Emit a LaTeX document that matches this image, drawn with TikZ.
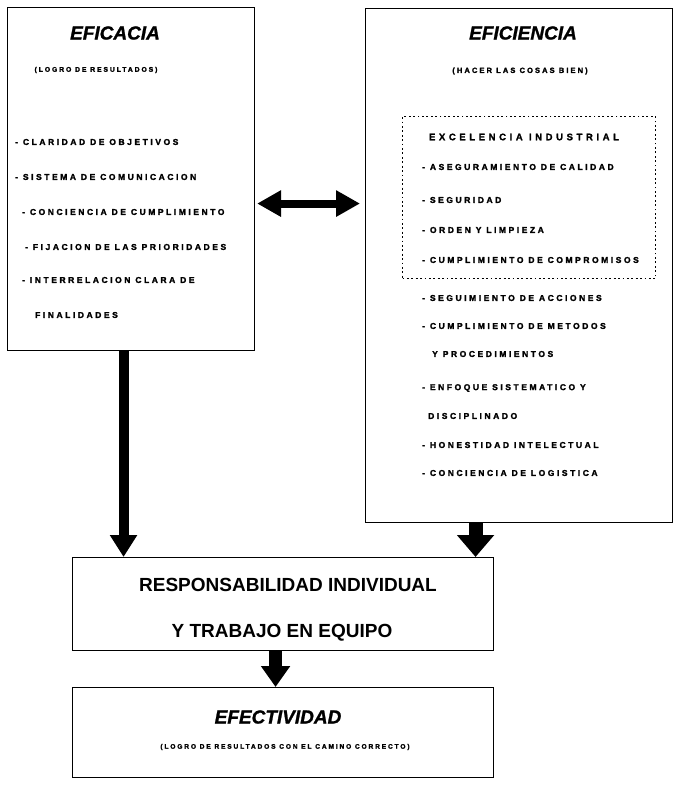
\documentclass[tikz,border=0pt]{standalone}
\usepackage{fontspec}
\setmainfont{Liberation Sans}
\newfontfamily\trackedfont[LetterSpace=30,FakeBold=2]{Liberation Sans}
\newfontfamily\subfont[LetterSpace=28,FakeBold=2]{Liberation Sans}
\newfontfamily\headfont[LetterSpace=38,FakeBold=1.5]{Liberation Sans}
\newfontfamily\titlefont[FakeBold=1.2]{Liberation Sans}
\usetikzlibrary{arrows.meta}

\begin{document}
\begin{tikzpicture}[x=1pt,y=-1pt,
  frame/.style={draw, line width=1.1pt, inner sep=0pt, anchor=north west},
  dotframe/.style={draw, line width=1pt, dash pattern=on 1.8pt off 2.6pt, inner sep=0pt, anchor=north west},
  title/.style={font=\titlefont\fontsize{19}{21}\selectfont\bfseries\itshape, inner sep=0pt},
  subtitle/.style={font=\subfont\fontsize{#1}{9}\selectfont\bfseries, inner sep=0pt},
  subtitle/.default=7.5,
  item/.style={font=\trackedfont\fontsize{8.5}{10}\selectfont\bfseries, anchor=west, inner sep=0pt},
  head/.style={font=\headfont\fontsize{9.5}{11}\selectfont\bfseries, inner sep=0pt},
  big/.style={font=\fontsize{19}{22}\selectfont\bfseries, inner sep=0pt},
  fatarrow/.style={line width=#1},
]
\useasboundingbox (0,0) rectangle (673,792);

% frames
\node[frame, minimum width=247pt, minimum height=343pt] (lbox) at (7,7) {};
\node[frame, minimum width=307pt, minimum height=514pt] (rbox) at (365,8) {};
\node[dotframe, minimum width=253pt, minimum height=162pt] (xbox) at (402,116) {};
\node[frame, minimum width=421pt, minimum height=93pt] (mbox) at (72,557) {};
\node[frame, minimum width=421pt, minimum height=90pt] (bbox) at (72,687) {};

% left column
\node[title] (eficacia) at (115,33) {EFICACIA};
\node[subtitle=6.8] (logro) at (96,70) {(LOGRO DE RESULTADOS)};
\node[item] (l1) at (15,142) {- CLARIDAD DE OBJETIVOS};
\node[item] (l2) at (15,177) {- SISTEMA DE COMUNICACION};
\node[item] (l3) at (22,212) {- CONCIENCIA DE CUMPLIMIENTO};
\node[item] (l4) at (25,247) {- FIJACION DE LAS PRIORIDADES};
\node[item] (l5) at (22,280) {- INTERRELACION CLARA DE};
\node[item] (l6) at (35,315) {FINALIDADES};

% right column
\node[title] (eficiencia) at (523,33) {EFICIENCIA};
\node[subtitle] (hacer) at (520,71) {(HACER LAS COSAS BIEN)};
\node[head] (excel) at (524,137) {EXCELENCIA INDUSTRIAL};
\node[item] (r1) at (422,167) {- ASEGURAMIENTO DE CALIDAD};
\node[item] (r2) at (422,200) {- SEGURIDAD};
\node[item] (r3) at (422,230) {- ORDEN Y LIMPIEZA};
\node[item] (r4) at (422,260) {- CUMPLIMIENTO DE COMPROMISOS};
\node[item] (r5) at (422,298) {- SEGUIMIENTO DE ACCIONES};
\node[item] (r6) at (422,326) {- CUMPLIMIENTO DE METODOS};
\node[item] (r7) at (432,354) {Y PROCEDIMIENTOS};
\node[item] (r8) at (422,388) {- ENFOQUE SISTEMATICO Y};
\node[item] (r9) at (428,416) {DISCIPLINADO};
\node[item] (r10) at (422,445) {- HONESTIDAD INTELECTUAL};
\node[item] (r11) at (422,473) {- CONCIENCIA DE LOGISTICA};

% lower boxes
\node[big] (resp) at (288,585) {RESPONSABILIDAD INDIVIDUAL};
\node[big] (equipo) at (282,633) {Y TRABAJO EN EQUIPO};
\node[title] (efectividad) at (278,717) {EFECTIVIDAD};
\node[subtitle=6.6] (camino) at (285,747) {(LOGRO DE RESULTADOS CON EL CAMINO CORRECTO)};

% connectors
\draw[fatarrow=10pt, -{Triangle[width=26pt,length=22pt]}]
  ([xshift=-7.5pt]lbox.south) -- ([xshift=-7.5pt]lbox.south |- mbox.north);
\draw[fatarrow=14pt, -{Triangle[width=36pt,length=22pt]}]
  ([xshift=-43.5pt]rbox.south) -- ([xshift=-43.5pt]rbox.south |- mbox.north);
\draw[fatarrow=13pt, -{Triangle[width=28pt,length=21pt]}]
  ([xshift=-7.5pt]mbox.south) -- ([xshift=-7.5pt]mbox.south |- bbox.north);
\draw[fatarrow=8pt, {Triangle[width=25pt,length=24pt]}-{Triangle[width=25pt,length=24pt]},
  shorten <=2pt, shorten >=5pt]
  ([yshift=-24.5pt]lbox.east) -- ([yshift=-24.5pt]lbox.east -| rbox.west);
\end{tikzpicture}
\end{document}
